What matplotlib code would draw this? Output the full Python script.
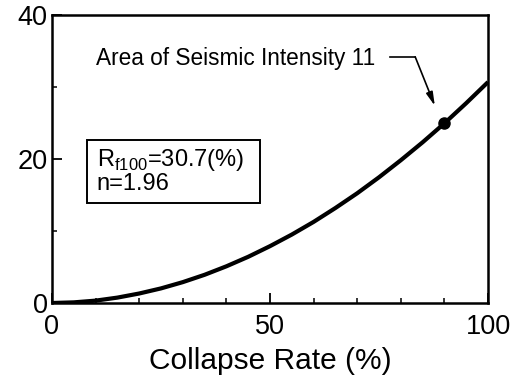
import matplotlib
matplotlib.use("Agg")
import matplotlib.pyplot as plt
from matplotlib.ticker import MultipleLocator
from matplotlib.patches import Rectangle

plt.rcParams['font.family'] = ['Liberation Sans', 'DejaVu Sans']
plt.rcParams['mathtext.fontset'] = 'custom'
plt.rcParams['mathtext.rm'] = 'Liberation Sans'

collapse_rate = [0, 5, 10, 15, 20, 25, 30, 35, 40, 45, 50, 55, 60, 65, 70, 75, 80, 85, 90, 95, 100]
curve_values = [0, 0.09, 0.33, 0.75, 1.32, 2.03, 2.90, 3.92, 5.10, 6.42, 7.90, 9.51, 11.27, 13.2,
                15.25, 17.47, 19.84, 22.33, 24.97, 27.77, 30.7]
marker_x = [90]
marker_y = [25.0]
annotation_text = "Area of Seismic Intensity 11"
box_lines = [r"R$_{\mathrm{f100}}$=30.7(%)", "n=1.96"]
xlabel = "Collapse Rate (%)"

fig = plt.figure(figsize=(5.21, 3.78), dpi=100)
ax = fig.add_axes([0.0998, 0.1984, 0.8369, 0.7616])
ax.plot(collapse_rate, curve_values, color='black', lw=3.0, solid_capstyle='butt')
ax.plot(marker_x, marker_y, 'o', color='black', ms=8)

ax.set_xlim(0, 100)
ax.set_ylim(0, 40)
ax.set_xticks([0, 50, 100])
ax.set_yticks([0, 20, 40])
ax.xaxis.set_minor_locator(MultipleLocator(10))
ax.yaxis.set_minor_locator(MultipleLocator(10))
ax.tick_params(which='major', direction='in', length=7, width=1.3, labelsize=19.5, pad=3)
ax.tick_params(axis='x', which='major', pad=8)
ax.tick_params(which='minor', direction='in', length=3.5, width=1.1)
for s in ax.spines.values():
    s.set_linewidth(1.8)
ax.set_xlabel(xlabel, fontsize=21.5, labelpad=5)

ax.text(10, 34.0, annotation_text, fontsize=16.3, va='center', ha='left')
ax.plot([77.5, 83.3], [34.2, 34.2], color='black', lw=1.2)
ax.annotate("", xy=(87.8, 27.4), xytext=(83.3, 34.2),
            arrowprops=dict(arrowstyle='-|>,head_length=0.8,head_width=0.2', color='black', lw=1.2,
                            shrinkA=0, shrinkB=0))

ax.add_patch(Rectangle((8.0, 13.9), 39.7, 8.7, facecolor='white', edgecolor='black', lw=1.4, zorder=3))
ax.text(10.3, 18.3, "\n".join(box_lines), fontsize=17, va='center', ha='left', linespacing=1.0, zorder=4)

fig.savefig("out.png", dpi=100)
